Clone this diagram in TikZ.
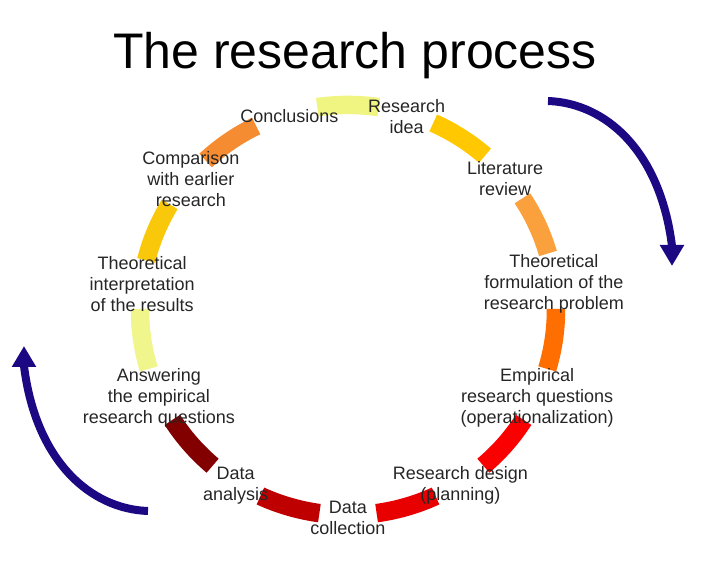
\documentclass[tikz,border=0pt]{standalone}
\usepackage{fontspec}
\setmainfont{Liberation Sans}
\usepackage{xcolor}
\usetikzlibrary{arrows.meta}
\definecolor{palelemon}{RGB}{240, 245, 130}
\definecolor{palelemonb}{RGB}{240, 245, 140}
\definecolor{sungold}{RGB}{255, 200, 0}
\definecolor{sungoldb}{RGB}{250, 200, 10}
\definecolor{softorange}{RGB}{250, 160, 60}
\definecolor{softorangeb}{RGB}{245, 140, 50}
\definecolor{deeporange}{RGB}{255, 110, 0}
\definecolor{brightred}{RGB}{250, 0, 0}
\definecolor{plainred}{RGB}{232, 0, 0}
\definecolor{darkred}{RGB}{190, 0, 0}
\definecolor{maroonred}{RGB}{130, 0, 0}
\definecolor{cyclenavy}{RGB}{28, 8, 130}
\tikzset{
    title/.style={font=\fontsize{50}{60}\selectfont, text=black},
    stage/.style={align=center, font=\fontsize{18}{21}\selectfont, text=black!85, inner sep=0pt, yshift=-3pt},
    segment/.style={line width=18.5pt},
    cyclearrow/.style={line width=8pt, draw=cyclenavy, -{Triangle[width=23pt, length=21pt]}},
}

\begin{document}
\begin{tikzpicture}[x=1pt, y=1pt]
    \useasboundingbox (-348,-263) rectangle (357,310);

    % Title
    \node[title, anchor=base] (title) at (7, 241) {The research process};

    \begin{scope}[yscale=0.986]
        % Segments of the cycle
        \draw[segment, palelemon]   (98.5:208) arc[start angle=98.5, end angle=81.5, radius=208];
        \draw[segment, sungold]     (65.8:208) arc[start angle=65.8, end angle=48.8, radius=208];
        \draw[segment, softorange]  (33.0:208) arc[start angle=33.0, end angle=16.0, radius=208];
        \draw[segment, deeporange]  (0.3:208) arc[start angle=0.3, end angle=-16.7, radius=208];
        \draw[segment, brightred]   (-32.4:208) arc[start angle=-32.4, end angle=-49.4, radius=208];
        \draw[segment, plainred]    (-65.1:208) arc[start angle=-65.1, end angle=-82.1, radius=208];
        \draw[segment, darkred]     (-97.9:208) arc[start angle=-97.9, end angle=-114.9, radius=208];
        \draw[segment, maroonred]   (-130.6:208) arc[start angle=-130.6, end angle=-147.6, radius=208];
        \draw[segment, palelemonb]  (-163.3:208) arc[start angle=-163.3, end angle=-180.3, radius=208];
        \draw[segment, sungoldb]    (166.0:208) arc[start angle=166.0, end angle=149.0, radius=208];
        \draw[segment, softorangeb] (133.2:208) arc[start angle=133.2, end angle=116.2, radius=208];

        % Stages
        \node[stage] (idea) at (73.64:208) {Research\\idea};
        \node[stage] (litreview) at (40.91:208) {Literature\\review};
        \node[stage] (formulation) at (8.18:208) {Theoretical\\formulation of the\\research problem};
        \node[stage] (empirical) at (-24.55:208) {Empirical\\research questions\\(operationalization)};
        \node[stage] (design) at (-57.27:208) {Research design\\(planning)};
        \node[stage] (collection) at (-90:208) {Data\\collection};
        \node[stage] (analysis) at (-122.73:208) {Data\\analysis};
        \node[stage] (answering) at (-155.45:208) {Answering\\the empirical\\research questions};
        \node[stage] (interpretation) at (171.82:208) {Theoretical\\interpretation\\of the results};
        \node[stage] (comparison) at (139.09:208) {Comparison\\with earlier\\research};
        \node[stage] (conclusions) at (106.36:208) {Conclusions};
    \end{scope}

    % Direction arrows
    \coordinate (rightstart) at (200, 209);
    \coordinate (righttip) at (324, 44);
    \draw[cyclearrow] (rightstart) .. controls (257, 207) and (312, 160) .. (324, 64) -- (righttip);
    \begin{scope}[rotate around={180:(0, 4)}]
        \coordinate (leftstart) at (200, 209);
        \coordinate (lefttip) at (324, 44);
        \draw[cyclearrow] (leftstart) .. controls (257, 207) and (312, 160) .. (324, 64) -- (lefttip);
    \end{scope}
\end{tikzpicture}
\end{document}
